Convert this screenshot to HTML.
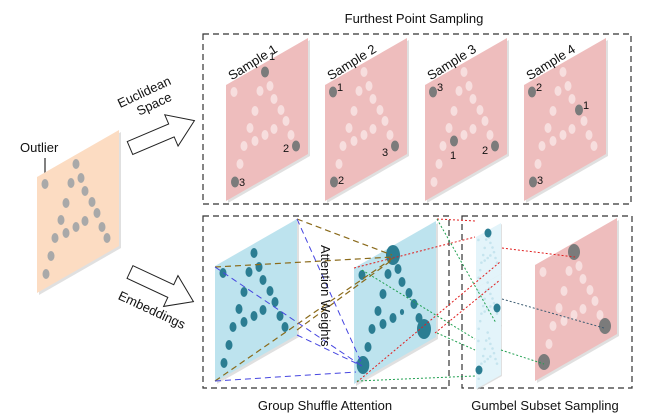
<!DOCTYPE html>
<html><head><meta charset="utf-8"><style>
html,body{margin:0;padding:0;background:#fff;}
svg{display:block;font-family:"Liberation Sans",sans-serif;}
</style></head><body>
<svg id="s" width="651" height="420" viewBox="0 0 651 420" xmlns="http://www.w3.org/2000/svg">
<rect x="203" y="34" width="428" height="170" fill="none" stroke="#333" stroke-width="1.2" stroke-dasharray="6,4"/>
<rect x="203" y="216" width="246" height="172" fill="none" stroke="#333" stroke-width="1.2" stroke-dasharray="6,4"/>
<rect x="462" y="216" width="170" height="172" fill="none" stroke="#333" stroke-width="1.2" stroke-dasharray="6,4"/>
<text x="414" y="23" font-size="13" text-anchor="middle" fill="#111">Furthest Point Sampling</text>
<text x="325" y="410" font-size="13" text-anchor="middle" fill="#111">Group Shuffle Attention</text>
<text x="545" y="410" font-size="13" text-anchor="middle" fill="#111">Gumbel Subset Sampling</text>
<text x="20" y="152" font-size="13" fill="#111">Outlier</text>
<line x1="45" y1="158" x2="45" y2="180" stroke="#555" stroke-width="1.5"/>
<g transform="translate(146,96) rotate(-25)" font-size="13" fill="#111" text-anchor="middle"><text x="0" y="0">Euclidean</text><text x="4" y="15">Space</text></g>
<g transform="translate(150,314) rotate(25)" font-size="13" fill="#111" text-anchor="middle"><text x="0" y="0">Embeddings</text></g>
<g transform="translate(130,148) rotate(-23)"><polygon points="0,-7 45,-7 45,-17 70,0 45,17 45,7 0,7" fill="#fff" stroke="#222" stroke-width="1"/></g>
<g transform="translate(130,272) rotate(25)"><polygon points="0,-7 45,-7 45,-17 70,0 45,17 45,7 0,7" fill="#fff" stroke="#222" stroke-width="1"/></g>
<g id="g"></g>
</svg>
<script>
var g=document.getElementById('g');var out='';
var P=[[39,-13],[34,6],[44,1],[8,7],[48,14],[29,26],[55,25],[60,36],[24,43],[65,50],[18,61],[29,56],[39,50],[48,44],[70,61],[14,79],[9,97]];
function panel(xl,yl,fill,h){h=h||116;
 out+='<polygon points="'+(xl+2)+','+(yl+2)+' '+(xl+84)+','+(yl-45)+' '+(xl+84)+','+(yl+71)+' '+(xl+2)+','+(yl+h+2)+'" fill="#ccc" opacity="0.6"/>';
 out+='<polygon points="'+xl+','+yl+' '+(xl+82)+','+(yl-47)+' '+(xl+82)+','+(yl+69)+' '+xl+','+(yl+h)+'" fill="'+fill+'"/>';}
function dots(xl,yl,col,rx,ry,hl,hcol,hr,big){
 P.forEach(function(p,i){var c=col,r1=rx,r2=ry;
  if(hl&&hl.indexOf(i)>=0){c=hcol;r1=hr[0];r2=hr[1];}
  if(big&&big[i]){r1*=big[i];r2*=big[i];}
  out+='<ellipse cx="'+(xl+p[0])+'" cy="'+(yl+p[1])+'" rx="'+r1+'" ry="'+r2+'" fill="'+c+'"/>';});}
function txt(x,y,t,s,extra){out+='<text x="'+x+'" y="'+y+'" font-size="'+(s||11)+'" fill="#111" '+(extra||'')+'>'+t+'</text>';}
// orange
panel(37,177,'#fcdcc2');dots(37,177,'#a9a9a9',3.5,5);
// top samples
var S=[[226,[0,14,16],[['1',4,-12],['2',-13,6],['3',4,4]]],[325,[3,16,14],[['1',4,-1],['2',4,2],['3',-13,10]]],[425,[3,11,14],[['3',4,-1],['1',-4,18],['2',-13,8]]],[524,[3,6,16],[['2',4,-1],['1',4,-1],['3',4,2]]]];
S.forEach(function(s,k){var xl=s[0],yl=85;panel(xl,yl,'#eebdbd');
 dots(xl,yl,'#f7dede',3.5,5,s[1],'#7b7b7b',[4,5.5]);
 s[1].forEach(function(idx,j){var p=P[idx];txt(xl+p[0]+s[2][j][1],yl+p[1]+s[2][j][2],s[2][j][0],11);});
 out+='<text transform="translate('+(xl+29)+',66) rotate(-32)" font-size="13" text-anchor="middle" fill="#111">Sample '+(k+1)+'</text>';});
// lines behind
function ln(x1,y1,x2,y2,c,d,w){out+='<line x1="'+x1+'" y1="'+y1+'" x2="'+x2+'" y2="'+y2+'" stroke="'+c+'" stroke-width="'+(w||1)+'" stroke-dasharray="'+d+'"/>';}
// blue panels
panel(215,266,'#bde3ee');dots(215,266,'#2b7d92',3.5,5);
panel(354,268,'#bde3ee');
var big={0:2,14:2,16:1.8,13:0.6};dots(354,268,'#2b7d92',3.5,5,null,null,null,big);
var B='#8a6a1a',L='#4646e0',R='#e02020',G='#20a050';
ln(297,219,392,255,B,'6,4',1.2);ln(215,267,393,257,B,'6,4',1.2);ln(215,381,393,258,B,'6,4',1.2);ln(297,330,392,260,B,'6,4',1.2);
ln(215,267,362,366,L,'6,4');ln(297,219,362,364,L,'6,4');ln(297,335,362,366,L,'6,4');ln(215,381,356,372,L,'6,4');
out+='<text transform="translate(321,245) rotate(90)" font-size="13" fill="#111">Attention Weights</text>';
// small panels
[[476,237],[476,288],[476,338]].forEach(function(a,k){var x=a[0],y=a[1];
 out+='<polygon points="'+(x+1)+','+(y+1)+' '+(x+26)+','+(y-13)+' '+(x+26)+','+(y+38)+' '+(x+1)+','+(y+52)+'" fill="#ccc" opacity="0.6"/>';
 out+='<polygon points="'+x+','+y+' '+(x+25)+','+(y-14)+' '+(x+25)+','+(y+37)+' '+x+','+(y+51)+'" fill="#e3f4fa"/>';
 P.forEach(function(p){out+='<circle cx="'+(x+p[0]*0.3)+'" cy="'+(y+p[1]*0.42)+'" r="1.3" fill="#c5e4ee"/>';});});
out+='<ellipse cx="488" cy="233" rx="3.5" ry="4.5" fill="#2b7d92"/><ellipse cx="497" cy="308" rx="3.5" ry="4.5" fill="#2b7d92"/><ellipse cx="479" cy="370" rx="3.5" ry="4.5" fill="#2b7d92"/>';
// bottom pink
panel(535,265,'#eebdbd');dots(535,265,'#f7dede',3.5,5,[0,14,16],'#7b7b7b',[6,8]);
ln(354,268,475,237,R,'2,2');ln(437,219,476,221,R,'2,2');ln(357,382,500,262,R,'2,2');ln(435,333,500,280,R,'2,2');ln(502,248,575,257,R,'2,2');
ln(437,219,496,323,G,'2,2');ln(362,270,475,339,G,'2,2');ln(357,381,475,376,G,'2,2');ln(437,333,475,350,G,'2,2');ln(501,350,544,364,G,'2,2');
ln(502,299,604,328,'#3a5a70','2,2');
g.innerHTML=out;
</script>
</body></html>
